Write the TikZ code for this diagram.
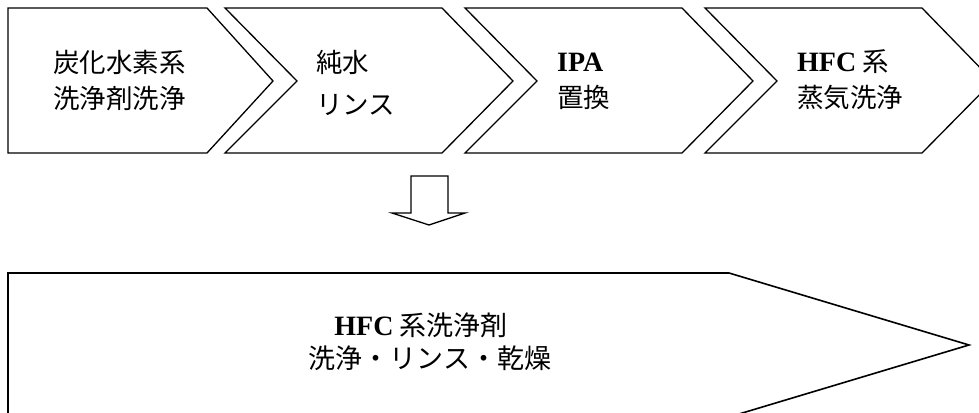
\documentclass[tikz,border=0pt]{standalone}
\usepackage{fontspec}
\setmainfont{Liberation Serif}
\newfontfamily\jp{Noto Sans CJK JP}
\newcommand{\latb}[1]{{\fontsize{28}{30}\selectfont\rmfamily\bfseries #1}}
\begin{document}
\begin{tikzpicture}[x=1pt,y=-1pt,
  chev/.style={draw=black,line width=1.3pt,line join=miter},
  bigchev/.style={draw=black,line width=1.6pt,line join=miter},
  lbl/.style={anchor=base west,inner sep=0pt,font=\fontsize{26.5}{30}\selectfont\jp},
  clbl/.style={anchor=base,inner sep=0pt,font=\fontsize{27}{30}\selectfont\jp}]
\useasboundingbox (0,0) rectangle (979,412);
\clip (0,0) rectangle (979,412);
% top chevrons
\draw[chev] (8,8) -- (207,8) -- (273,81) -- (207,153) -- (8,153) -- cycle;
\draw[chev] (225,8) -- (442,8) -- (513,81) -- (442,153) -- (225,153) -- (297,81) -- cycle;
\draw[chev] (465,8) -- (682,8) -- (753,81) -- (682,153) -- (465,153) -- (537,81) -- cycle;
\draw[chev] (705,8) -- (922,8) -- (993,81) -- (922,153) -- (705,153) -- (777,81) -- cycle;
% labels
\node[lbl] (a1) at (53,73) {炭化水素系};
\node[lbl] (a2) at (53,108) {洗浄剤洗浄};
\node[lbl] (b1) at (316,73) {純水};
\node[lbl] (b2) at (316,114) {リンス};
\node[lbl] (c1) at (557,71) {\latb{IPA}};
\node[lbl] (c2) at (557,107) {置換};
\node[lbl] (d1) at (797,71) {\latb{HFC} 系};
\node[lbl] (d2) at (797,107) {蒸気洗浄};
% down arrow
\draw[line width=1.3pt,line join=miter] (411,176) -- (448,176) -- (448,213) -- (465,213) -- (429,225) -- (392,213) -- (411,213) -- cycle;
% big arrow
\draw[bigchev] (8,440) -- (8,273) -- (729,273) -- (969,345) -- (729,417);
\node[clbl] (e1) at (421,335) {\latb{HFC} 系洗浄剤};
\node[clbl] (e2) at (430,368) {洗浄・リンス・乾燥};
\end{tikzpicture}
\end{document}
